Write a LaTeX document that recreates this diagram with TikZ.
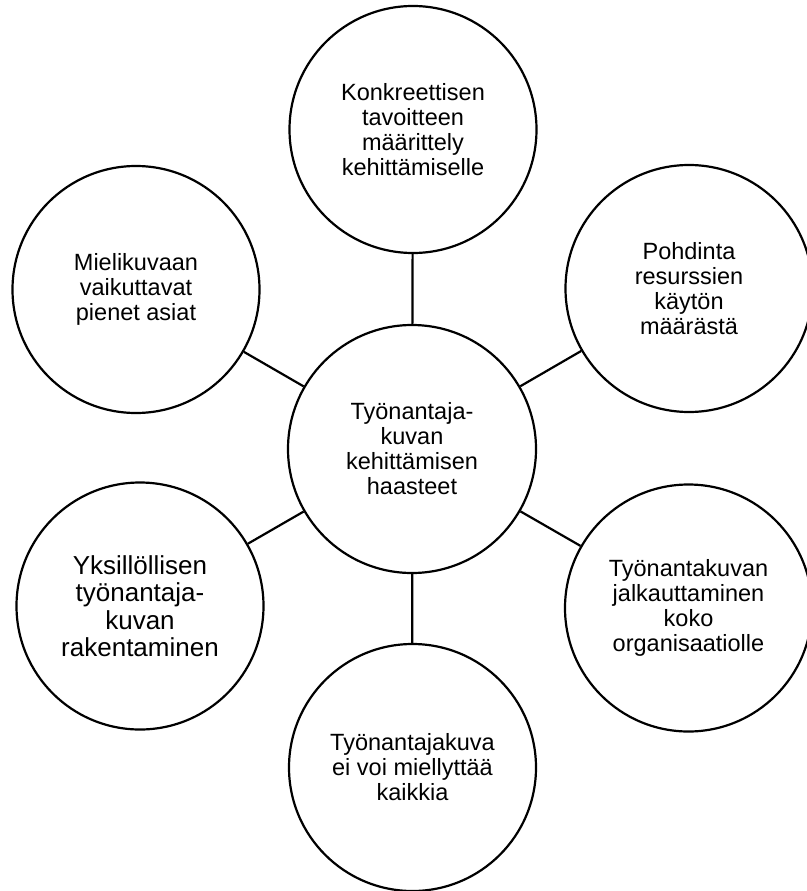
\documentclass[tikz,border=0pt]{standalone}
\usepackage{fontspec}
\setmainfont{Liberation Sans}
\begin{document}
\begin{tikzpicture}[x=1pt,y=-1pt,
  bubble/.style={circle,draw=black,line width=2.2pt,minimum size=247pt,inner sep=0pt,
    align=center,font=\fontsize{23.5pt}{25pt}\selectfont,fill=white},
  bigtext/.style={font=\fontsize{26pt}{27.5pt}\selectfont},
  hub/.style={bubble,minimum size=248pt},
  spoke/.style={draw=black,line width=2.2pt}]
\useasboundingbox (0,0) rectangle (806,891);
\node[hub] (c) at (412,449) {Työnantaja-\\kuvan\\kehittämisen\\haasteet};
\node[bubble] (t) at (413,129.5) {Konkreettisen\\tavoitteen\\määrittely\\kehittämiselle};
\node[bubble] (tr) at (689,288.5) {Pohdinta\\resurssien\\käytön\\määrästä};
\node[bubble] (br) at (688.5,608) {Työnantakuvan\\jalkauttaminen\\koko\\organisaatiolle};
\node[bubble] (b) at (412.5,767.5) {Työnantajakuva\\ei voi miellyttää\\kaikkia};
\node[bubble,bigtext] (bl) at (140,606) {Yksillöllisen\\työnantaja-\\kuvan\\rakentaminen};
\node[bubble] (tl) at (136,289.5) {Mielikuvaan\\vaikuttavat\\pienet asiat};
\foreach \n in {t,tr,br,b,bl,tl} \draw[spoke] (c) -- (\n);
\end{tikzpicture}
\end{document}
